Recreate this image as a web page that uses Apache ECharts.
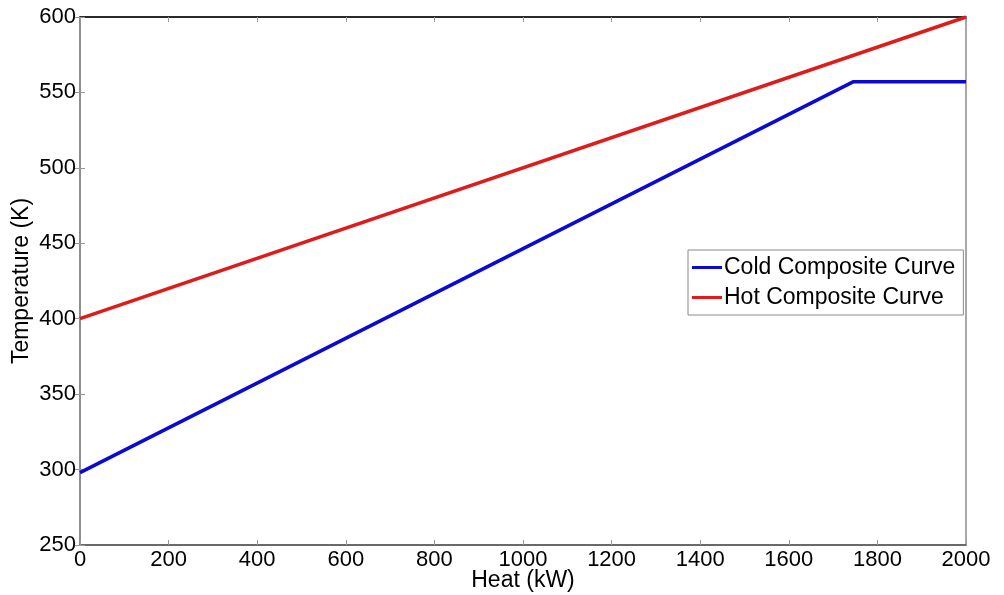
<!DOCTYPE html>
<html><head><meta charset="utf-8">
<script src="https://cdn.jsdelivr.net/npm/echarts@6/dist/echarts.min.js"></script>
<style>html,body{margin:0;padding:0;background:#fff}#c{width:1004px;height:595px}</style>
</head><body><div id="c"></div>
<script>
const coldCurve = [[0, 298], [1745, 557], [2000, 557]];
const hotCurve = [[0, 400], [2000, 600]];
const seriesNames = ['Cold Composite Curve', 'Hot Composite Curve'];
const xName = 'Heat (kW)';
const yName = 'Temperature (K)';
const FONT = 'Liberation Sans';
const chart = echarts.init(document.getElementById('c'));
const tickCommon = {show: true, inside: true, length: 5, lineStyle: {color: '#999', width: 1}};
chart.setOption({
  animation: false,
  grid: {left: 80, right: 38, top: 17, bottom: 50, containLabel: false, outerBoundsMode: 'none',
         show: true, borderColor: '#8c8c8c', borderWidth: 1.5},
  legend: {
    data: seriesNames, orient: 'vertical', left: 688, top: 250,
    backgroundColor: '#fff', borderColor: '#8a8a8a', borderWidth: 1,
    padding: [6, 8, 6, 4], itemGap: 7, itemWidth: 30, itemHeight: 3, icon: 'rect',
    textStyle: {fontFamily: FONT, fontSize: 23, color: '#000', padding: [0, 0, 0, -3]}
  },
  xAxis: [{
    type: 'value', min: 0, max: 2000, interval: 200,
    name: xName, nameLocation: 'middle', nameGap: 24, nameMoveOverlap: false,
    nameTextStyle: {fontFamily: FONT, fontSize: 23, color: '#000'},
    axisLine: {show: true, lineStyle: {color: '#555', width: 1.5}},
    axisTick: tickCommon,
    axisLabel: {fontFamily: FONT, fontSize: 22, color: '#000', margin: 4, formatter: v => String(v)},
    splitLine: {show: false}
  }, {
    type: 'value', position: 'top', min: 0, max: 2000, interval: 200,
    axisLine: {show: true, lineStyle: {color: '#000', width: 1.5}},
    axisTick: tickCommon, axisLabel: {show: false}, splitLine: {show: false}
  }],
  yAxis: [{
    type: 'value', min: 250, max: 600, interval: 50,
    name: yName, nameLocation: 'middle', nameGap: 47, nameMoveOverlap: false,
    nameTextStyle: {fontFamily: FONT, fontSize: 23, color: '#000'},
    axisLine: {show: true, lineStyle: {color: '#8c8c8c', width: 1.5}},
    axisTick: tickCommon,
    axisLabel: {fontFamily: FONT, fontSize: 22, color: '#000', margin: 4, formatter: v => String(v)},
    splitLine: {show: false}
  }, {
    type: 'value', position: 'right', min: 250, max: 600, interval: 50,
    axisLine: {show: true, lineStyle: {color: '#8c8c8c', width: 1.5}},
    axisTick: tickCommon, axisLabel: {show: false}, splitLine: {show: false}
  }],
  series: [
    {name: seriesNames[0], type: 'line', data: coldCurve, showSymbol: false, symbol: 'none',
     lineStyle: {color: '#0a0ad2', width: 3.5}, itemStyle: {color: '#0a0ad2'}},
    {name: seriesNames[1], type: 'line', data: hotCurve, showSymbol: false, symbol: 'none',
     lineStyle: {color: '#dd1c1c', width: 3.5}, itemStyle: {color: '#dd1c1c'}}
  ]
});
</script></body></html>
